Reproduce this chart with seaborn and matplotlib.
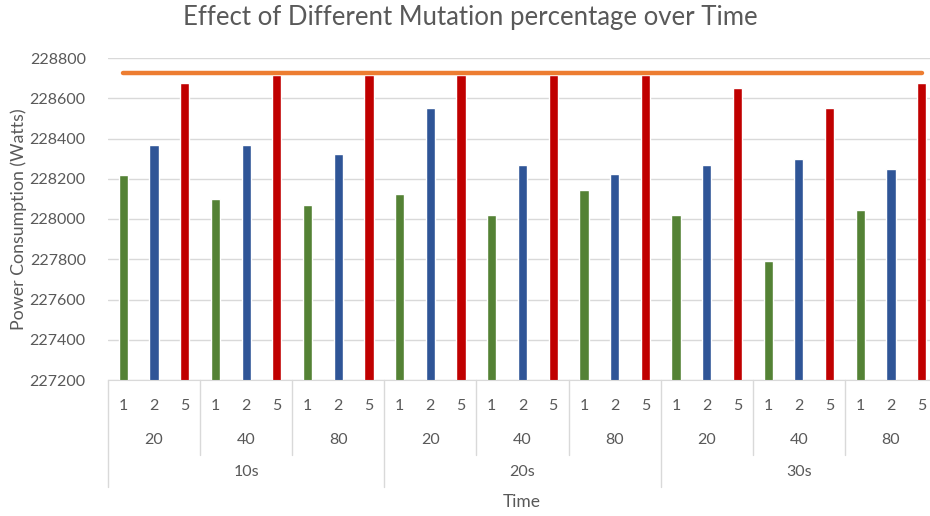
import matplotlib
matplotlib.use("Agg")
import matplotlib.pyplot as plt
import matplotlib.transforms as mtransforms
import numpy as np
import pandas as pd
import seaborn as sns

# Data
times = ["10s", "20s", "30s"]
populations = ["20", "40", "80"]
mutations = ["1", "2", "5"]
power = [
    228220, 228370, 228675,   # 10s / 20
    228100, 228370, 228718,   # 10s / 40
    228070, 228325, 228718,   # 10s / 80
    228125, 228550, 228718,   # 20s / 20
    228020, 228270, 228718,   # 20s / 40
    228145, 228225, 228718,   # 20s / 80
    228020, 228270, 228650,   # 30s / 20
    227790, 228300, 228550,   # 30s / 40
    228045, 228250, 228676,   # 30s / 80
]
baseline_power = 228725

rows = []
for i, t in enumerate(times):
    for j, p in enumerate(populations):
        for k, m in enumerate(mutations):
            idx = i * 9 + j * 3 + k
            rows.append({"pos": str(idx), "time": t, "population": p,
                         "mutation": m, "power": power[idx]})
df = pd.DataFrame(rows)
order = list(df["pos"])

sns.set_style("white")
plt.rcParams["font.family"] = ["Lato", "DejaVu Sans"]

text_color = "#595959"
grid_color = "#D9D9D9"
palette = {"1": "#548235", "2": "#2F5597", "5": "#C00000"}

fig = plt.figure(figsize=(9.3, 5.16), dpi=100)
ax = fig.add_axes([108 / 930, 1 - 380 / 516, (937 - 108) / 930, (380 - 58) / 516])

sns.barplot(data=df, x="pos", y="power", hue="mutation", order=order,
            palette=palette, dodge=False, width=0.3, saturation=1,
            legend=False, ax=ax, zorder=2)

line_df = pd.DataFrame({"x": np.arange(len(order)), "y": baseline_power})
sns.lineplot(data=line_df, x="x", y="y", color="#ED7D31", linewidth=3.2,
             ax=ax, zorder=3)

ax.set_ylim(227200, 228800)
ax.set_xlim(-0.5, len(order) - 0.5)
ax.set_yticks(np.arange(227200, 228801, 200))
ax.yaxis.grid(True, color=grid_color, linewidth=1)
ax.set_axisbelow(True)
for s in ["top", "right", "left"]:
    ax.spines[s].set_visible(False)
ax.spines["bottom"].set_color(grid_color)

ax.set_xticks(range(len(order)))
ax.set_xticklabels(list(df["mutation"]))
ax.tick_params(axis="both", length=0, labelsize=11.5, colors=text_color)
ax.tick_params(axis="x", pad=14)
ax.tick_params(axis="y", pad=16)
ax.set_xlabel("")
ax.set_ylabel("Power Consumption (Watts)", fontsize=12.8, color=text_color)
ax.yaxis.set_label_coords((27 - 108) / 829, 0.5)

# Multi-level category labels below the axis
trans = mtransforms.blended_transform_factory(ax.transData, ax.transAxes)
px = 1 / (380 - 58)
for i, t in enumerate(times):
    for j, p in enumerate(populations):
        center = i * 9 + j * 3 + 1
        ax.text(center, -(440 - 380) * px, p, transform=trans, ha="center",
                va="center", fontsize=11.5, color=text_color)
    ax.text(i * 9 + 4, -(472 - 380) * px, t, transform=trans, ha="center",
            va="center", fontsize=11.5, color=text_color)

for g in range(len(order) // 3 + 1):
    xpos = g * 3 - 0.5
    depth = 487 if g % 3 == 0 else 455
    ax.plot([xpos, xpos], [0, -(depth - 380) * px], transform=trans,
            color=grid_color, linewidth=1, clip_on=False)

fig.text(522 / 930, 1 - 502 / 516, "Time", ha="center", va="center",
         fontsize=12.5, color=text_color)
fig.text(470 / 930, 1 - 18 / 516, "Effect of Different Mutation percentage over Time",
         ha="center", va="center", fontsize=18.5, color=text_color)

fig.savefig("out.png", dpi=100)
